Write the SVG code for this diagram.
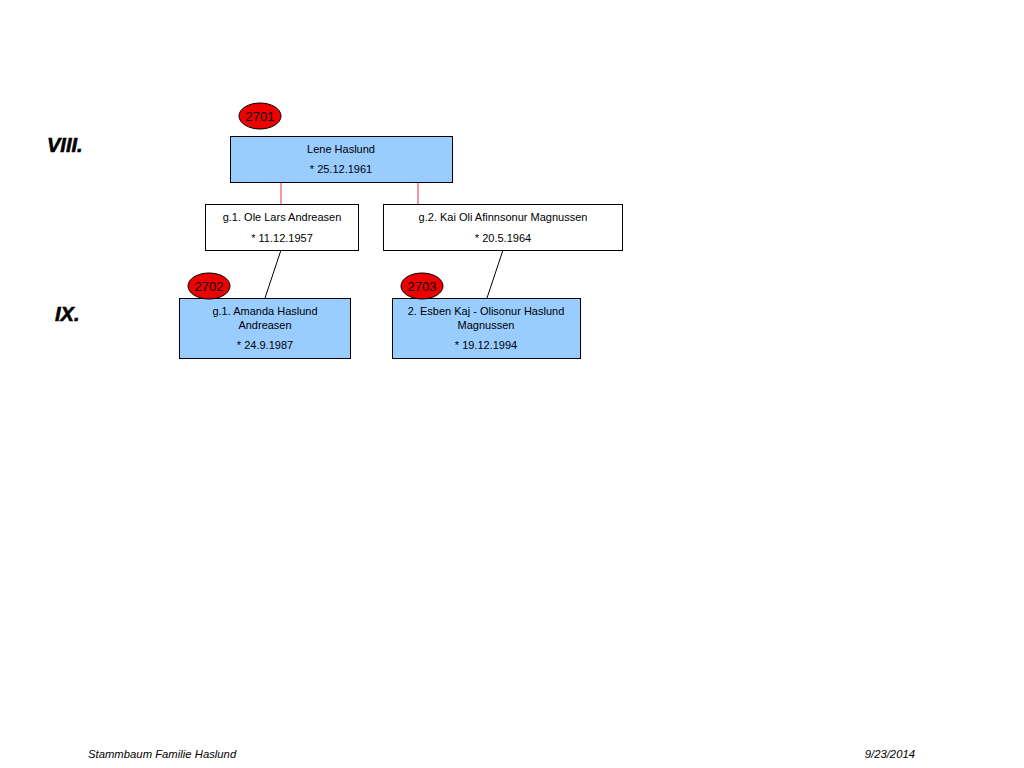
<svg xmlns="http://www.w3.org/2000/svg" width="1024" height="768" viewBox="0 0 1024 768">
<style>
.t{font-family:"Liberation Sans",Arial,sans-serif;font-size:11px;fill:#000;text-anchor:middle}
.id{font-family:"Liberation Sans",Arial,sans-serif;font-size:13px;fill:#000;text-anchor:middle}
.blue{fill:#99CCFF;stroke:#000;stroke-width:1}
.white{fill:#fff;stroke:#000;stroke-width:1}
.badge{fill:#EE0000;stroke:#000;stroke-width:1}
.gen{font-family:"Liberation Sans",Arial,sans-serif;font-size:20px;font-weight:bold;font-style:italic;fill:#000;stroke:#000;stroke-width:0.6}
.foot{font-family:"Liberation Sans",Arial,sans-serif;font-size:11.3px;font-style:italic;fill:#000}
.red{stroke:#E0304A;stroke-width:1;fill:none}
.blk{stroke:#000;stroke-width:1;fill:none}
</style>
<rect width="1024" height="768" fill="#fff"/>
<text class="gen" x="47" y="152">VIII.</text>
<text class="gen" x="55" y="321">IX.</text>
<g id="connectors">
<line class="red" x1="281" y1="182" x2="281" y2="204"/>
<line class="red" x1="418" y1="182" x2="418" y2="204"/>
<line class="blk" x1="281" y1="250" x2="265" y2="298"/>
<line class="blk" x1="503" y1="250" x2="487" y2="298"/>
</g>
<g id="n2701">
<rect class="blue" x="230.5" y="136.5" width="222" height="46"/>
<text class="t" x="341" y="153">Lene Haslund</text>
<text class="t" x="341" y="173">* 25.12.1961</text>
<ellipse class="badge" cx="260" cy="116" rx="21" ry="13"/>
<text class="id" x="260" y="121">2701</text>
</g>
<g id="spouse1">
<rect class="white" x="205.5" y="204.5" width="153" height="46"/>
<text class="t" x="282" y="221">g.1. Ole Lars Andreasen</text>
<text class="t" x="282" y="242">* 11.12.1957</text>
</g>
<g id="spouse2">
<rect class="white" x="383.5" y="204.5" width="239" height="46"/>
<text class="t" x="503" y="221">g.2. Kai Oli Afinnsonur Magnussen</text>
<text class="t" x="503" y="242">* 20.5.1964</text>
</g>
<g id="n2702">
<rect class="blue" x="179.5" y="298.5" width="171" height="60"/>
<text class="t" x="265" y="315">g.1. Amanda Haslund</text>
<text class="t" x="265" y="329">Andreasen</text>
<text class="t" x="265" y="349">* 24.9.1987</text>
<ellipse class="badge" cx="209" cy="286" rx="21" ry="13"/>
<text class="id" x="209" y="291">2702</text>
</g>
<g id="n2703">
<rect class="blue" x="392.5" y="298.5" width="188" height="60"/>
<text class="t" x="486" y="315">2. Esben Kaj - Olisonur Haslund</text>
<text class="t" x="486" y="329">Magnussen</text>
<text class="t" x="486" y="349">* 19.12.1994</text>
<ellipse class="badge" cx="422" cy="286" rx="21" ry="13"/>
<text class="id" x="422" y="291">2703</text>
</g>
<text class="foot" x="88" y="758">Stammbaum Familie Haslund</text>
<text class="foot" x="915" y="758" text-anchor="end">9/23/2014</text>
</svg>
